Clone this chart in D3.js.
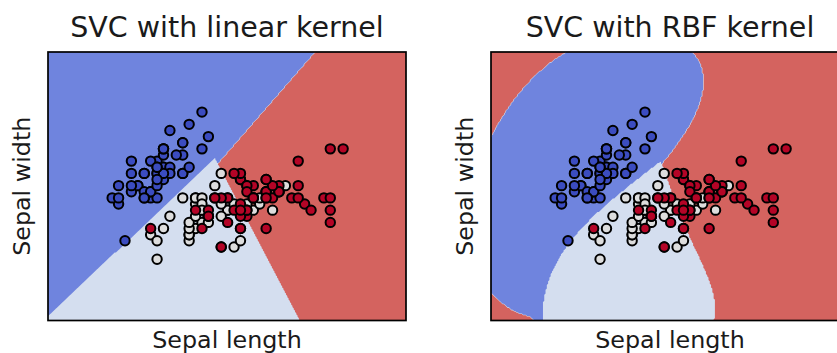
<!DOCTYPE html>
<html><head><meta charset="utf-8">
<script src="https://cdn.jsdelivr.net/npm/d3@7"></script>
<style>body{margin:0;background:#fff}svg{display:block}</style>
</head><body>
<svg id="chart" width="837" height="353"></svg>
<script>
// ---- Data (iris: sepal length / sepal width) ----
const classNames = ["setosa", "versicolor", "virginica"];
const setosaLength = [5.1,4.9,4.7,4.6,5.0,5.4,4.6,5.0,4.4,4.9,5.4,4.8,4.8,4.3,5.8,5.7,5.4,5.1,5.7,5.1,5.4,5.1,4.6,5.1,4.8,5.0,5.0,5.2,5.2,4.7,4.8,5.4,5.2,5.5,4.9,5.0,5.5,4.9,4.4,5.1,5.0,4.5,4.4,5.0,5.1,4.8,5.1,4.6,5.3,5.0];
const setosaWidth = [3.5,3.0,3.2,3.1,3.6,3.9,3.4,3.4,2.9,3.1,3.7,3.4,3.0,3.0,4.0,4.4,3.9,3.5,3.8,3.8,3.4,3.7,3.6,3.3,3.4,3.0,3.4,3.5,3.4,3.2,3.1,3.4,4.1,4.2,3.1,3.2,3.5,3.6,3.0,3.4,3.5,2.3,3.2,3.5,3.8,3.0,3.8,3.2,3.7,3.3];
const versicolorLength = [7.0,6.4,6.9,5.5,6.5,5.7,6.3,4.9,6.6,5.2,5.0,5.9,6.0,6.1,5.6,6.7,5.6,5.8,6.2,5.6,5.9,6.1,6.3,6.1,6.4,6.6,6.8,6.7,6.0,5.7,5.5,5.5,5.8,6.0,5.4,6.0,6.7,6.3,5.6,5.5,5.5,6.1,5.8,5.0,5.6,5.7,5.7,6.2,5.1,5.7];
const versicolorWidth = [3.2,3.2,3.1,2.3,2.8,2.8,3.3,2.4,2.9,2.7,2.0,3.0,2.2,2.9,2.9,3.1,3.0,2.7,2.2,2.5,3.2,2.8,2.5,2.8,2.9,3.0,2.8,3.0,2.9,2.6,2.4,2.4,2.7,2.7,3.0,3.4,3.1,2.3,3.0,2.5,2.6,3.0,2.6,2.3,2.7,3.0,2.9,2.9,2.5,2.8];
const virginicaLength = [6.3,5.8,7.1,6.3,6.5,7.6,4.9,7.3,6.7,7.2,6.5,6.4,6.8,5.7,5.8,6.4,6.5,7.7,7.7,6.0,6.9,5.6,7.7,6.3,6.7,7.2,6.2,6.1,6.4,7.2,7.4,7.9,6.4,6.3,6.1,7.7,6.3,6.4,6.0,6.9,6.7,6.9,5.8,6.8,6.7,6.7,6.3,6.5,6.2,5.9];
const virginicaWidth = [3.3,2.7,3.0,2.9,3.0,3.0,2.5,2.9,2.5,3.6,3.2,2.7,3.0,2.5,2.8,3.2,3.0,3.8,2.6,2.2,3.2,2.8,2.8,2.7,3.3,3.2,2.8,3.0,2.8,3.0,2.8,3.8,2.8,2.8,2.6,3.0,3.4,3.1,3.0,3.1,3.1,3.1,2.7,3.2,3.3,3.0,2.5,3.0,3.4,3.0];

const panelTitles = ["SVC with linear kernel", "SVC with RBF kernel"];
const panelKernels = ["linear", "rbf"];
const xLabel = "Sepal length";
const yLabel = "Sepal width";

// model settings (as in the original example)
const C = 1.0, gamma = 0.7, step = 0.02;

// ---- Styles ----
const pointColors = ["#3b4cc0", "#dddddd", "#b40426"];
const regionColors = ["#6f84de", "#d4deef", "#d4635f"];
const W = 837, H = 353;
const panelLeft = [48, 491], panelTop = 52, panelW = 358, panelH = 268.5;

// ---- Build dataset ----
const data = [];
[[setosaLength, setosaWidth], [versicolorLength, versicolorWidth], [virginicaLength, virginicaWidth]]
  .forEach(([L, Wd], c) => L.forEach((v, i) => data.push({ x: v, y: Wd[i], c })));

const xMin = d3.min(data, d => d.x) - 1, xMax = d3.max(data, d => d.x) + 1;
const yMin = d3.min(data, d => d.y) - 1, yMax = d3.max(data, d => d.y) + 1;
const nx = Math.round((xMax - xMin) / step), ny = Math.round((yMax - yMin) / step);

const kernels = {
  linear: (ax, ay, bx, by) => ax * bx + ay * by,
  rbf: (ax, ay, bx, by) => { const dx = ax - bx, dy = ay - by; return Math.exp(-gamma * (dx * dx + dy * dy)); }
};

// libsvm-style SMO (C-SVC)
function smo(X, Y, kern) {
  const n = X.length;
  const K = X.map(a => Float64Array.from(X, b => kern(a[0], a[1], b[0], b[1])));
  const a = new Float64Array(n), G = new Float64Array(n).fill(-1);
  const eps = 1e-3, tau = 1e-12;
  for (let iter = 0; iter < 200000; iter++) {
    let Gmax = -Infinity, i = -1;
    for (let t = 0; t < n; t++) {
      if ((Y[t] === 1 && a[t] < C) || (Y[t] === -1 && a[t] > 0)) {
        const v = -Y[t] * G[t];
        if (v >= Gmax) { Gmax = v; i = t; }
      }
    }
    let Gmax2 = -Infinity, j = -1, objMin = Infinity;
    for (let t = 0; t < n; t++) {
      if ((Y[t] === 1 && a[t] > 0) || (Y[t] === -1 && a[t] < C)) {
        const v = Y[t] * G[t];
        if (v >= Gmax2) Gmax2 = v;
        const b = Gmax + v;
        if (b > 0) {
          let q = K[i][i] + K[t][t] - 2 * K[i][t]; if (q <= 0) q = tau;
          const o = -(b * b) / q;
          if (o <= objMin) { objMin = o; j = t; }
        }
      }
    }
    if (Gmax + Gmax2 < eps || j === -1) break;
    const oi = a[i], oj = a[j];
    const Qij = Y[i] * Y[j] * K[i][j];
    if (Y[i] !== Y[j]) {
      let quad = K[i][i] + K[j][j] + 2 * Qij; if (quad <= 0) quad = tau;
      const delta = (-G[i] - G[j]) / quad, diff = a[i] - a[j];
      a[i] += delta; a[j] += delta;
      if (diff > 0) { if (a[j] < 0) { a[j] = 0; a[i] = diff; } }
      else { if (a[i] < 0) { a[i] = 0; a[j] = -diff; } }
      if (diff > 0) { if (a[i] > C) { a[i] = C; a[j] = C - diff; } }
      else { if (a[j] > C) { a[j] = C; a[i] = C + diff; } }
    } else {
      let quad = K[i][i] + K[j][j] - 2 * Qij; if (quad <= 0) quad = tau;
      const delta = (G[i] - G[j]) / quad, sum = a[i] + a[j];
      a[i] -= delta; a[j] += delta;
      if (sum > C) { if (a[i] > C) { a[i] = C; a[j] = sum - C; } }
      else { if (a[j] < 0) { a[j] = 0; a[i] = sum; } }
      if (sum > C) { if (a[j] > C) { a[j] = C; a[i] = sum - C; } }
      else { if (a[i] < 0) { a[i] = 0; a[j] = sum; } }
    }
    const di = a[i] - oi, dj = a[j] - oj;
    for (let t = 0; t < n; t++) G[t] += Y[t] * (Y[i] * K[i][t] * di + Y[j] * K[j][t] * dj);
  }
  let ub = Infinity, lb = -Infinity, nFree = 0, sFree = 0;
  for (let t = 0; t < n; t++) {
    const yG = Y[t] * G[t];
    if (a[t] >= C) { if (Y[t] === -1) ub = Math.min(ub, yG); else lb = Math.max(lb, yG); }
    else if (a[t] <= 0) { if (Y[t] === 1) ub = Math.min(ub, yG); else lb = Math.max(lb, yG); }
    else { nFree++; sFree += yG; }
  }
  const rho = nFree > 0 ? sFree / nFree : (ub + lb) / 2;
  const svx = [], svy = [], coef = [];
  for (let t = 0; t < n; t++) if (a[t] > 0) { svx.push(X[t][0]); svy.push(X[t][1]); coef.push(Y[t] * a[t]); }
  return { svx, svy, coef, rho };
}

function trainOvO(kern) {
  const models = [];
  for (let p = 0; p < 3; p++) for (let q = p + 1; q < 3; q++) {
    const pts = data.filter(d => d.c === p || d.c === q);
    const m = smo(pts.map(d => [d.x, d.y]), pts.map(d => d.c === p ? 1 : -1), kern);
    models.push({ p, q, ...m });
  }
  return models;
}

function predictGrid(kernName) {
  const kern = kernels[kernName];
  const models = trainOvO(kern);
  const out = new Float64Array(nx * ny);
  for (let jy = 0; jy < ny; jy++) {
    const py = yMin + jy * step;
    for (let ix = 0; ix < nx; ix++) {
      const px = xMin + ix * step;
      const votes = [0, 0, 0];
      for (const m of models) {
        let s = -m.rho;
        for (let k = 0; k < m.coef.length; k++) s += m.coef[k] * kern(m.svx[k], m.svy[k], px, py);
        if (s > 0) votes[m.p]++; else votes[m.q]++;
      }
      let best = 0; for (let c = 1; c < 3; c++) if (votes[c] > votes[best]) best = c;
      out[jy * nx + ix] = best;
    }
  }
  return out;
}

// ---- Drawing ----
const svg = d3.select("#chart");
const font = "DejaVu Sans, sans-serif";

panelKernels.forEach((kernName, pi) => {
  const x0 = panelLeft[pi];
  const xS = d3.scaleLinear().domain([xMin, xMin + (nx - 1) * step]).range([x0, x0 + panelW]);
  const yS = d3.scaleLinear().domain([yMin, yMin + (ny - 1) * step]).range([panelTop + panelH, panelTop]);
  const g = svg.append("g");
  const clipId = "clip" + pi;
  svg.append("clipPath").attr("id", clipId).append("rect")
    .attr("x", x0).attr("y", panelTop).attr("width", panelW).attr("height", panelH);
  const body = g.append("g").attr("clip-path", `url(#${clipId})`);

  const Z = predictGrid(kernName);
  const proj = d3.geoTransform({
    point(px, py) { this.stream.point(xS(xMin + (px - 0.5) * step), yS(yMin + (py - 0.5) * step)); }
  });
  const path = d3.geoPath(proj);
  const contours = d3.contours().size([nx, ny]).thresholds([-0.5, 0.5, 1.5])(Z);
  body.selectAll("path.region").data(contours).join("path")
    .attr("class", "region")
    .attr("d", path)
    .attr("fill", (d, i) => regionColors[i]);

  body.selectAll("circle").data(data).join("circle")
    .attr("cx", d => xS(d.x)).attr("cy", d => yS(d.y)).attr("r", 4.7)
    .attr("fill", d => pointColors[d.c]).attr("stroke", "#000").attr("stroke-width", 2);

  g.append("rect").attr("x", x0).attr("y", panelTop).attr("width", panelW).attr("height", panelH)
    .attr("fill", "none").attr("stroke", "#000").attr("stroke-width", 1.7);

  const cx = x0 + panelW / 2;
  g.append("text").attr("x", cx).attr("y", 37).attr("text-anchor", "middle")
    .attr("font-family", font).attr("font-size", 28.5).attr("fill", "#1a1a1a").text(panelTitles[pi]);
  g.append("text").attr("x", cx).attr("y", 347.5).attr("text-anchor", "middle")
    .attr("font-family", font).attr("font-size", 23.8).attr("fill", "#1a1a1a").text(xLabel);
  g.append("text").attr("transform", `translate(${x0 - 18},${panelTop + panelH / 2}) rotate(-90)`)
    .attr("text-anchor", "middle")
    .attr("font-family", font).attr("font-size", 23.8).attr("fill", "#1a1a1a").text(yLabel);
});
</script>
</body></html>
